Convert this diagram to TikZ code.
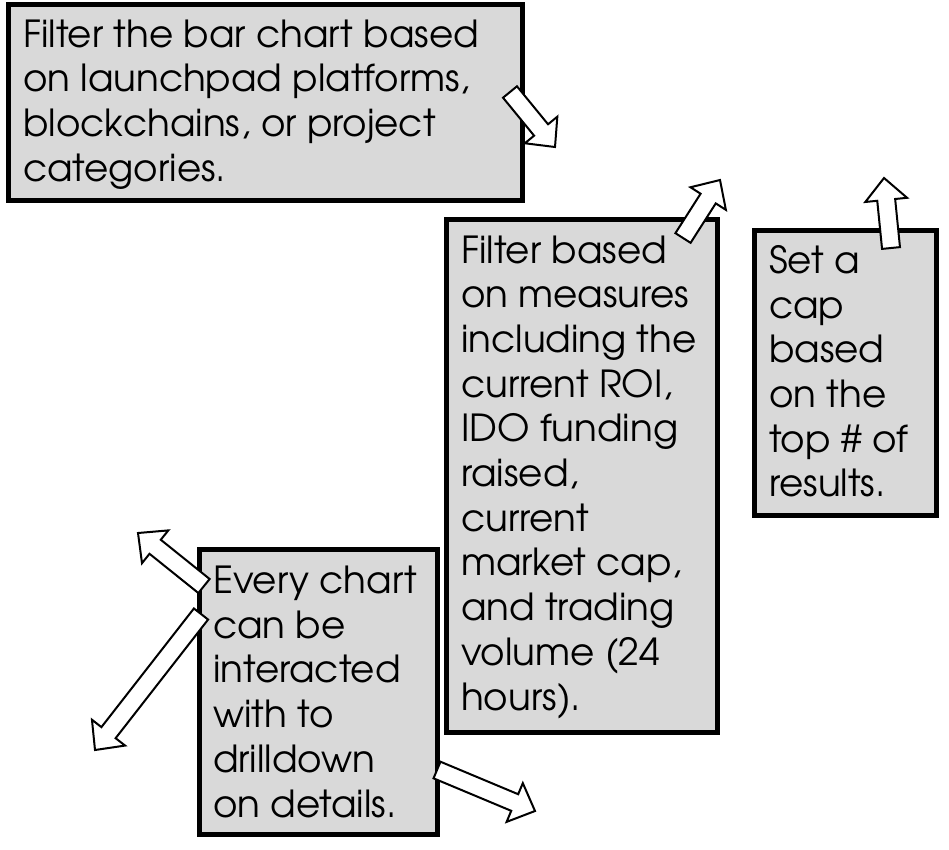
\documentclass[tikz,border=0pt]{standalone}
\usepackage{fontspec}
\setmainfont{TeX Gyre Adventor}
\usetikzlibrary{calc}
\definecolor{boxgray}{HTML}{D9D9D9}
\tikzset{
  box/.style={draw=black, line width=5pt, fill=boxgray},
  label/.style={anchor=base west, align=left, inner sep=0pt,
    font=\fontsize{37.3}{44.7}\selectfont},
  blockarrow/.style={draw=black, line width=2pt, fill=white, line join=miter}
}
\newcommand\blockarrow[2]{%
  \coordinate (T) at (#1);
  \coordinate (H) at (#2);
  \coordinate (B) at ($(H)!22pt!(T)$);
  \draw[blockarrow]
    ($(T)!9pt!90:(H)$) -- ($(B)!9pt!-90:(T)$) -- ($(B)!21pt!-90:(T)$) --
    (H) -- ($(B)!21pt!90:(T)$) -- ($(B)!9pt!90:(T)$) --
    ($(T)!9pt!-90:(H)$) -- cycle;
}
\begin{document}
\begin{tikzpicture}[x=1pt,y=-1pt]
\useasboundingbox (0,0) rectangle (949,849);
% boxes
\draw[box] (8.5,4.5) rectangle (522,200);
\draw[box] (446,219) rectangle (717,732);
\draw[box] (754.5,230) rectangle (936.5,515);
\draw[box] (199,549) rectangle (437.5,834.5);
% texts (anchored at the baseline of the last line)
\node[label] (t1) at (23,181.1) {Filter the bar chart based\\on launchpad platforms,\\blockchains, or project\\categories.};
\node[label] (t2) at (461,710) {Filter based\\on measures\\including the\\current ROI,\\IDO funding\\raised,\\current\\market cap,\\and trading\\volume (24\\hours).};
\node[label] (t3) at (769,496.8) {Set a\\cap\\based\\on the\\top \# of\\results.};
\node[label] (t4) at (213,817) {Every chart\\can be\\interacted\\with to\\drilldown\\on details.};
% arrows
\blockarrow{510,92}{555,147}
\blockarrow{683,238}{720,180}
\blockarrow{891,248}{884,178}
\blockarrow{204,586}{138,533}
\blockarrow{201,614}{95,750}
\blockarrow{437,770}{535,811}
\end{tikzpicture}
\end{document}
